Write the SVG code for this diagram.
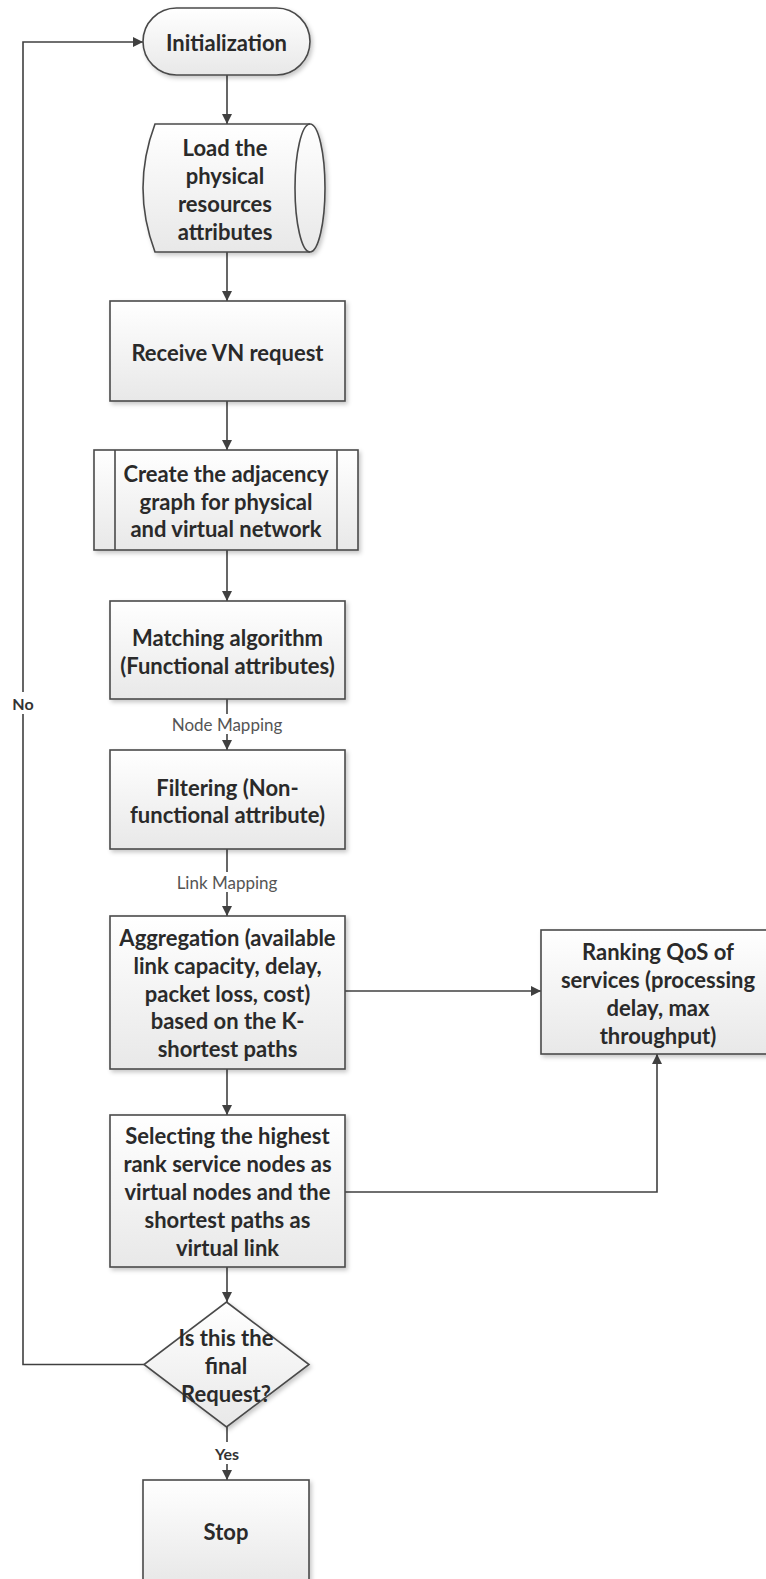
<svg xmlns="http://www.w3.org/2000/svg" width="766" height="1579" viewBox="0 0 766 1579">
  <defs>
    <linearGradient id="boxFill" x1="0" y1="0" x2="0" y2="1">
      <stop offset="0" stop-color="#ffffff"/>
      <stop offset="1" stop-color="#e8e8e8"/>
    </linearGradient>
    <filter id="shadow" x="-10%" y="-10%" width="125%" height="125%">
      <feDropShadow dx="2" dy="2.5" stdDeviation="2" flood-color="#000" flood-opacity="0.22"/>
    </filter>
    <marker id="arrow" viewBox="0 0 10 10" refX="10" refY="5" markerWidth="10" markerHeight="10" markerUnits="userSpaceOnUse" orient="auto">
      <path d="M0,0 L10,5 L0,10 Z" fill="#404040"/>
    </marker>
    <style>
      .shape { fill: url(#boxFill); stroke: #4a4a4a; stroke-width: 1.6; filter: url(#shadow); }
      .line { fill: none; stroke: #4a4a4a; stroke-width: 1.6; }
      .edge { fill: none; stroke: #404040; stroke-width: 1.6; }
      .t { font-family: Lato, "Open Sans", "Liberation Sans", sans-serif; font-weight: bold; font-size: 22px; fill: #2a2a2a; text-anchor: middle; dominant-baseline: central; }
      .lbl { font-family: Lato, "Open Sans", "Liberation Sans", sans-serif; font-size: 17px; fill: #555555; text-anchor: middle; dominant-baseline: central; }
      .lblb { font-family: Lato, "Open Sans", "Liberation Sans", sans-serif; font-weight: bold; font-size: 16px; fill: #333333; text-anchor: middle; dominant-baseline: central; }
      .bg { fill: #ffffff; }
    </style>
  </defs>

  <rect width="766" height="1579" fill="#ffffff"/>

  <!-- connectors -->
  <g id="connectors">
    <path class="edge" d="M227,75 V124" marker-end="url(#arrow)"/>
    <path class="edge" d="M227,252 V301" marker-end="url(#arrow)"/>
    <path class="edge" d="M227,401 V450" marker-end="url(#arrow)"/>
    <path class="edge" d="M227,550 V601" marker-end="url(#arrow)"/>
    <path class="edge" d="M227,699 V750" marker-end="url(#arrow)"/>
    <path class="edge" d="M227,849 V916" marker-end="url(#arrow)"/>
    <path class="edge" d="M345,991 H541" marker-end="url(#arrow)"/>
    <path class="edge" d="M227,1069 V1115" marker-end="url(#arrow)"/>
    <path class="edge" d="M345,1192 H657 V1054" marker-end="url(#arrow)"/>
    <path class="edge" d="M227,1267 V1302" marker-end="url(#arrow)"/>
    <path class="edge" d="M144,1364.5 H23 V42 H143" marker-end="url(#arrow)"/>
    <path class="edge" d="M227,1427 V1480" marker-end="url(#arrow)"/>

    <!-- connector labels -->
    <rect class="bg" x="168" y="714" width="118" height="20"/>
    <text class="lbl" x="227" y="724">Node Mapping</text>
    <rect class="bg" x="173" y="872" width="108" height="20"/>
    <text class="lbl" x="227" y="882">Link Mapping</text>
    <rect class="bg" x="9" y="692" width="28" height="22"/>
    <text class="lblb" x="23" y="703">No</text>
    <rect class="bg" x="209" y="1442" width="36" height="22"/>
    <text class="lblb" x="227" y="1453">Yes</text>
  </g>

  <!-- start terminator -->
  <g id="init">
    <rect class="shape" x="143" y="8" width="167" height="67" rx="33.5" ry="33.5"/>
    <text class="t" x="226.5" y="42">Initialization</text>
  </g>

  <!-- stored physical resources (direct-access storage) -->
  <g id="load">
    <path class="shape" d="M155,124 H310 A15,64 0 0 1 310,252 H155 Q131,188 155,124 Z"/>
    <path class="line" d="M310,124 A15,64 0 0 0 310,252"/>
    <text class="t" x="225" y="147">Load the</text>
    <text class="t" x="225" y="175">physical</text>
    <text class="t" x="225" y="203">resources</text>
    <text class="t" x="225" y="231">attributes</text>
  </g>

  <g id="receive">
    <rect class="shape" x="110" y="301" width="235" height="100"/>
    <text class="t" x="227.5" y="352">Receive VN request</text>
  </g>

  <!-- predefined process -->
  <g id="adjacency">
    <rect class="shape" x="94" y="450" width="264" height="100"/>
    <path class="line" d="M115,450 V550 M337,450 V550"/>
    <text class="t" x="226" y="473">Create the adjacency</text>
    <text class="t" x="226" y="501">graph for physical</text>
    <text class="t" x="226" y="528">and virtual network</text>
  </g>

  <g id="matching">
    <rect class="shape" x="110" y="601" width="235" height="98"/>
    <text class="t" x="227.5" y="637">Matching algorithm</text>
    <text class="t" x="227.5" y="665">(Functional attributes)</text>
  </g>

  <g id="filtering">
    <rect class="shape" x="110" y="750" width="235" height="99"/>
    <text class="t" x="227.5" y="787">Filtering (Non-</text>
    <text class="t" x="227.5" y="814">functional attribute)</text>
  </g>

  <g id="aggregation">
    <rect class="shape" x="110" y="916" width="235" height="153"/>
    <text class="t" x="227.5" y="937">Aggregation (available</text>
    <text class="t" x="227.5" y="965">link capacity, delay,</text>
    <text class="t" x="227.5" y="993">packet loss, cost)</text>
    <text class="t" x="227.5" y="1020">based on the K-</text>
    <text class="t" x="227.5" y="1048">shortest paths</text>
  </g>

  <g id="ranking">
    <rect class="shape" x="541" y="930" width="234" height="124"/>
    <text class="t" x="658" y="951">Ranking QoS of</text>
    <text class="t" x="658" y="979">services (processing</text>
    <text class="t" x="658" y="1007">delay, max</text>
    <text class="t" x="658" y="1035">throughput)</text>
  </g>

  <g id="selecting">
    <rect class="shape" x="110" y="1115" width="235" height="152"/>
    <text class="t" x="227.5" y="1135">Selecting the highest</text>
    <text class="t" x="227.5" y="1163">rank service nodes as</text>
    <text class="t" x="227.5" y="1191">virtual nodes and the</text>
    <text class="t" x="227.5" y="1219">shortest paths as</text>
    <text class="t" x="227.5" y="1247">virtual link</text>
  </g>

  <!-- decision -->
  <g id="decision">
    <path class="shape" d="M226.5,1302 L309,1364.5 L226.5,1427 L144,1364.5 Z"/>
    <text class="t" x="226" y="1337">Is this the</text>
    <text class="t" x="226" y="1365">final</text>
    <text class="t" x="226" y="1393">Request?</text>
  </g>

  <g id="stop">
    <rect class="shape" x="143" y="1480" width="166" height="102"/>
    <text class="t" x="226" y="1531">Stop</text>
  </g>
</svg>
